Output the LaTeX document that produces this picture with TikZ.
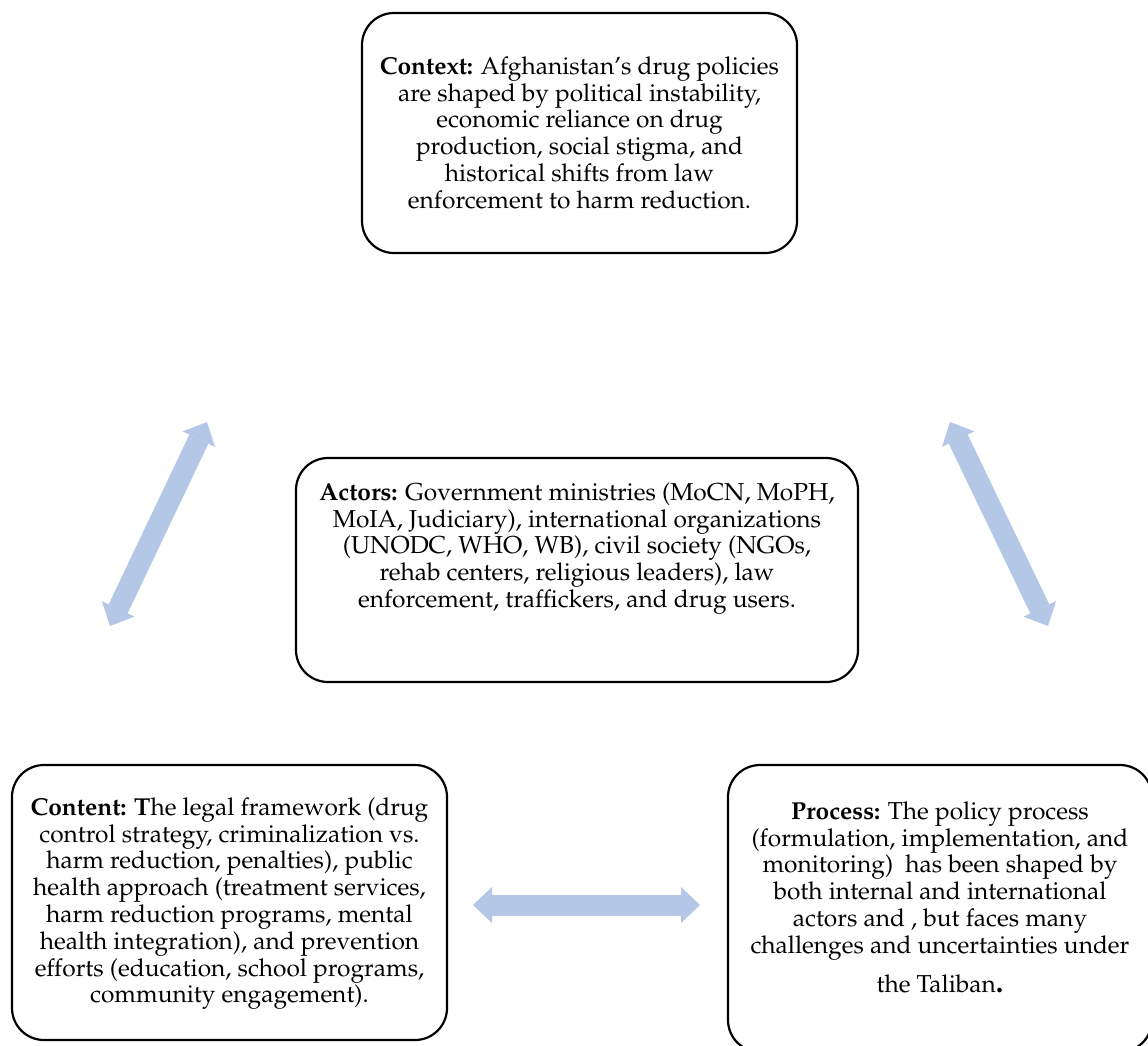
\documentclass[tikz,border=0pt]{standalone}
\usepackage[T1]{fontenc}
\renewcommand{\rmdefault}{ppl}
\usetikzlibrary{arrows.meta}
\definecolor{arrowblue}{HTML}{B4C7E7}
\tikzset{
  box/.style={draw=black, line width=2.2pt, rounded corners=32pt, inner sep=0pt},
  txt/.style={align=center, inner sep=0pt, anchor=north, font=\fontsize{24.5}{26.8}\selectfont},
  tipshape/.style={},
  dblarrow/.style={draw=arrowblue, line width=21pt,
    {Triangle[width=36pt,length=19pt,line width=0pt]}-{Triangle[width=36pt,length=19pt,line width=0pt]}}
}
\newcommand{\fl}{\rule{0pt}{20pt}}
\begin{document}
\begin{tikzpicture}[x=1pt,y=-1pt]
\clip (0,0) rectangle (1148,1045);
\fill[white] (0,0) rectangle (1148,1045);
% boxes
\node[box, minimum width=435pt, minimum height=240pt] (context) at (579.5,133) {};
\node[box, minimum width=562pt, minimum height=224pt] (actors) at (577,570) {};
\node[box, minimum width=435pt, minimum height=275pt] (content) at (229.5,902.5) {};
\node[box, minimum width=424pt, minimum height=287pt] (process) at (940,908.5) {};
% texts
\node[txt] (contexttext) at (579.5,54) {\fl\textbf{Context:} Afghanistan's drug policies\\
are shaped by political instability,\\
economic reliance on drug\\
production, social stigma, and\\
historical shifts from law\\
enforcement to harm reduction.};
\node[txt] (actorstext) at (577,480) {\fl\textbf{Actors:} Government ministries (MoCN, MoPH,\\
MoIA, Judiciary), international organizations\\
(UNODC, WHO, WB), civil society (NGOs,\\
rehab centers, religious leaders), law\\
enforcement, traffickers, and drug users.};
\node[txt] (contenttext) at (229.5,795) {\fl\textbf{Content: T}he legal framework (drug\\
control strategy, criminalization vs.\\
harm reduction, penalties), public\\
health approach (treatment services,\\
harm reduction programs, mental\\
health integration), and prevention\\
efforts (education, school programs,\\
community engagement).};
\node[txt] (processtext) at (940,799) {\fl\textbf{Process:} The policy process\\
(formulation, implementation, and\\
monitoring)\ \ has been shaped by\\
both internal and international\\
actors and , but faces many\\
challenges and uncertainties under\\[12pt]
the Taliban{\fontsize{30}{30}\selectfont\textbf{.}}};
% arrows
\coordinate (la) at (110,626);
\coordinate (lb) at (207,422);
\coordinate (ra) at (950,422);
\coordinate (rb) at (1048,626);
\coordinate (ha) at (473,905);
\coordinate (hb) at (700,905);
\draw[dblarrow] (la) -- (lb);
\draw[dblarrow] (ra) -- (rb);
\draw[dblarrow] (ha) -- (hb);
\end{tikzpicture}
\end{document}
